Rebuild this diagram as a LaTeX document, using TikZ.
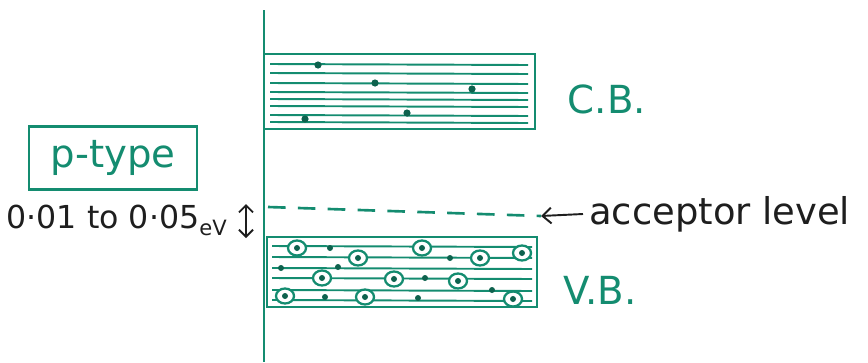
\documentclass[tikz,border=0pt]{standalone}
\usepackage{fontspec}
\setmainfont{DejaVu Sans}
\usetikzlibrary{arrows.meta}
\definecolor{ink}{RGB}{20,140,112}
\definecolor{pen}{RGB}{30,30,30}
\tikzset{
  band/.style={draw=ink, line width=1.6pt},
  hatch/.style={draw=ink, line width=1.1pt},
  elec/.style={fill=ink!70!black, draw=none},
  hole/.style={draw=ink, line width=1.3pt},
  lbl/.style={text=ink, font=\fontsize{22}{24}\selectfont},
  blk/.style={text=pen, font=\fontsize{18}{20}\selectfont}
}
\begin{document}
\begin{tikzpicture}[x=0.02cm,y=-0.02cm]
\useasboundingbox (0,0) rectangle (868,362);
% axis
\draw[band] (264,10) -- (264,362);
% conduction band
\draw[band] (264,54) rectangle (535,129);
\foreach \y in {64,73,83,92,99,106,115,122}
  \draw[hatch] (270,\y) -- (528,\y+1);
\foreach \p in {(318,65),(375,83),(472,89),(407,113),(305,119)}
  \fill[elec] \p circle (3.6);
% valence band
\draw[band] (267,237) rectangle (537,307);
\foreach \y in {246,257,268,278,290,300}
  \draw[hatch] (272,\y) -- (532,\y+1);
\foreach \p in {(297,248),(358,258),(422,248),(480,258),(522,253),(322,278),(394,279),(458,281),(285,296),(365,297),(513,299)}
  \draw[hole, fill=white] \p ellipse (9 and 7.5);
\foreach \p in {(297,248),(358,258),(422,248),(480,258),(522,253),(322,278),(394,279),(458,281),(285,296),(365,297),(513,299),
  (330,248),(450,258),(338,267),(281,268),(425,278),(492,290),(325,297),(418,298)}
  \fill[elec] \p circle (3);
% acceptor level
\coordinate (d1) at (268,207);
\coordinate (d2) at (541,216);
\draw[ink, line width=1.5pt, dash pattern=on 10pt off 7pt] (d1) -- (d2);
\node[blk, anchor=west, font=\fontsize{21}{23}\selectfont] (acc) at (583,214) {acceptor level};
\draw[pen, line width=1.1pt, -{Straight Barb[length=5pt,width=9pt]}] (acc.west) -- (d2);
% labels
\node[lbl] (cb) at (607,99) {C.B.};
\node[lbl] (vb) at (600,290) {V.B.};
\node[lbl, draw=ink, line width=1.4pt, minimum width=3.36cm, minimum height=1.26cm, inner sep=0pt] (pt) at (113,158) {p-type};
\node[blk, anchor=east] (gap) at (233,220) {0·01 to 0·05\raisebox{-4pt}{\fontsize{12}{12}\selectfont eV}};
\coordinate (g1) at (246,204);
\coordinate (g2) at (246,238);
\draw[pen, line width=1.1pt, {Straight Barb[length=4pt,width=8pt]}-{Straight Barb[length=4pt,width=8pt]}] (g1) -- (g2);
\end{tikzpicture}
\end{document}
